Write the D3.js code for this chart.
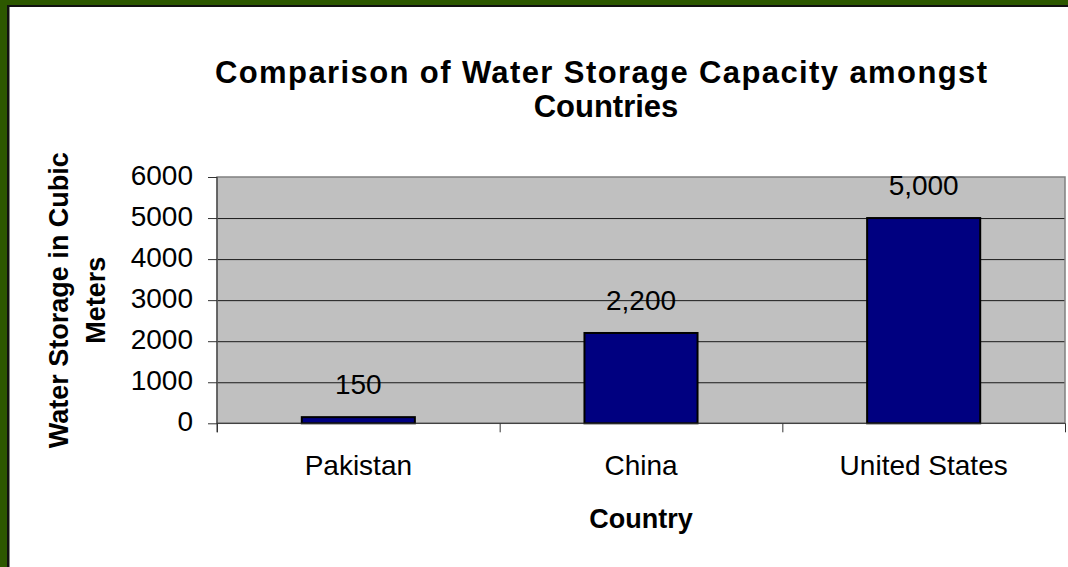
<!DOCTYPE html>
<html>
<head>
<meta charset="utf-8">
<script src="https://cdn.jsdelivr.net/npm/d3@7"></script>
<style>
  html, body { margin: 0; padding: 0; background: #fff; }
  svg { display: block; font-family: "Liberation Sans", Arial, sans-serif; }
</style>
</head>
<body>
<svg id="chart" width="1068" height="567"></svg>
<script>
// ---- data ----
const categories = ["Pakistan", "China", "United States"];
const values = [150, 2200, 5000];
const valueLabels = ["150", "2,200", "5,000"];
const yTickValues = [0, 1000, 2000, 3000, 4000, 5000, 6000];
const titleLines = ["Comparison of Water Storage Capacity amongst", "Countries"];
const yTitleLines = ["Water Storage in Cubic", "Meters"];
const xTitle = "Country";

// ---- layout ----
const W = 1068, H = 567;
const plot = { left: 217, right: 1065, top: 177, bottom: 423.3 };

const svg = d3.select("#chart");

// frame
svg.append("rect").attr("x", 0).attr("y", 0).attr("width", W).attr("height", H).attr("fill", "#2D5800");
svg.append("rect").attr("x", 7).attr("y", 5).attr("width", W).attr("height", H).attr("fill", "#111");
svg.append("rect").attr("x", 9.5).attr("y", 7).attr("width", W).attr("height", H).attr("fill", "#fff");

// scales
const x = d3.scaleBand().domain(categories).range([plot.left, plot.right])
  .paddingInner(0.6).paddingOuter(0.3);
const xEdge = d3.scaleLinear().domain([0, categories.length]).range([plot.left, plot.right]);
const y = d3.scaleLinear().domain([0, 6000]).range([plot.bottom, plot.top]);

// plot background
svg.append("rect")
  .attr("x", plot.left).attr("y", plot.top)
  .attr("width", plot.right - plot.left).attr("height", plot.bottom - plot.top)
  .attr("fill", "#C0C0C0");

// gridlines
svg.append("g")
  .attr("transform", `translate(${plot.left},0)`)
  .call(d3.axisLeft(y).tickValues(yTickValues.slice(1, -1)).tickSize(-(plot.right - plot.left)).tickFormat(""))
  .call(g => g.select(".domain").remove())
  .call(g => g.selectAll("line").attr("stroke", "#1a1a1a").attr("stroke-width", 1));

// plot border
svg.append("rect")
  .attr("x", plot.left).attr("y", plot.top)
  .attr("width", plot.right - plot.left).attr("height", plot.bottom - plot.top)
  .attr("fill", "none").attr("stroke", "#808080").attr("stroke-width", 1.5);

// bars
svg.append("g").selectAll("rect")
  .data(categories)
  .join("rect")
  .attr("x", d => x(d))
  .attr("y", (d, i) => y(values[i]))
  .attr("width", x.bandwidth())
  .attr("height", (d, i) => y(0) - y(values[i]))
  .attr("fill", "#000080")
  .attr("stroke", "#000")
  .attr("stroke-width", 2);

// y axis
const yAxis = svg.append("g")
  .attr("transform", `translate(${plot.left},0)`)
  .call(d3.axisLeft(y).tickValues(yTickValues).tickSize(9).tickPadding(15).tickFormat(d3.format("d")));
yAxis.select(".domain").attr("stroke", "#333").attr("d", `M0,${plot.top}V${plot.bottom + 9}`);
yAxis.selectAll("line").attr("stroke", "#333");
yAxis.selectAll("text").attr("font-size", 28).attr("fill", "#000").attr("dy", "0.27em")
  .attr("font-family", "'Liberation Sans', Arial, sans-serif");

// x axis edge ticks
const xTicks = svg.append("g")
  .attr("transform", `translate(0,${plot.bottom})`)
  .call(d3.axisBottom(xEdge).tickValues(d3.range(categories.length + 1)).tickSize(9).tickFormat(""));
xTicks.select(".domain").attr("stroke", "#333").attr("d", `M${plot.left},0H${plot.right}`);
xTicks.selectAll("line").attr("stroke", "#333");

// x category labels
const xAxis = svg.append("g")
  .attr("transform", `translate(0,${plot.bottom})`)
  .call(d3.axisBottom(x).tickSize(0).tickPadding(32));
xAxis.select(".domain").remove();
xAxis.selectAll("text").attr("font-size", 28).attr("fill", "#000")
  .attr("font-family", "'Liberation Sans', Arial, sans-serif");

// value labels
svg.append("g").selectAll("text")
  .data(categories)
  .join("text")
  .attr("x", d => x(d) + x.bandwidth() / 2)
  .attr("y", (d, i) => y(values[i]) - 23)
  .attr("text-anchor", "middle")
  .attr("font-size", 28)
  .attr("fill", "#000")
  .text((d, i) => valueLabels[i]);

// title
const title = svg.append("text")
  .attr("text-anchor", "middle")
  .attr("font-size", 31)
  .attr("font-weight", "bold")
  .attr("fill", "#000");
title.append("tspan").attr("x", 601).attr("y", 83).attr("textLength", 772).attr("lengthAdjust", "spacing").text(titleLines[0]);
title.append("tspan").attr("x", 606).attr("y", 117).text(titleLines[1]);

// x title
svg.append("text")
  .attr("x", (plot.left + plot.right) / 2)
  .attr("y", 528)
  .attr("text-anchor", "middle")
  .attr("font-size", 27)
  .attr("font-weight", "bold")
  .attr("fill", "#000")
  .text(xTitle);

// y title
const yCenter = (plot.top + plot.bottom) / 2;
const yTitle = svg.append("text")
  .attr("transform", `translate(0,${yCenter}) rotate(-90)`)
  .attr("text-anchor", "middle")
  .attr("font-size", 27)
  .attr("font-weight", "bold")
  .attr("fill", "#000");
yTitle.append("tspan").attr("x", 0).attr("y", 68).text(yTitleLines[0]);
yTitle.append("tspan").attr("x", 0).attr("y", 105).text(yTitleLines[1]);
</script>
</body>
</html>
